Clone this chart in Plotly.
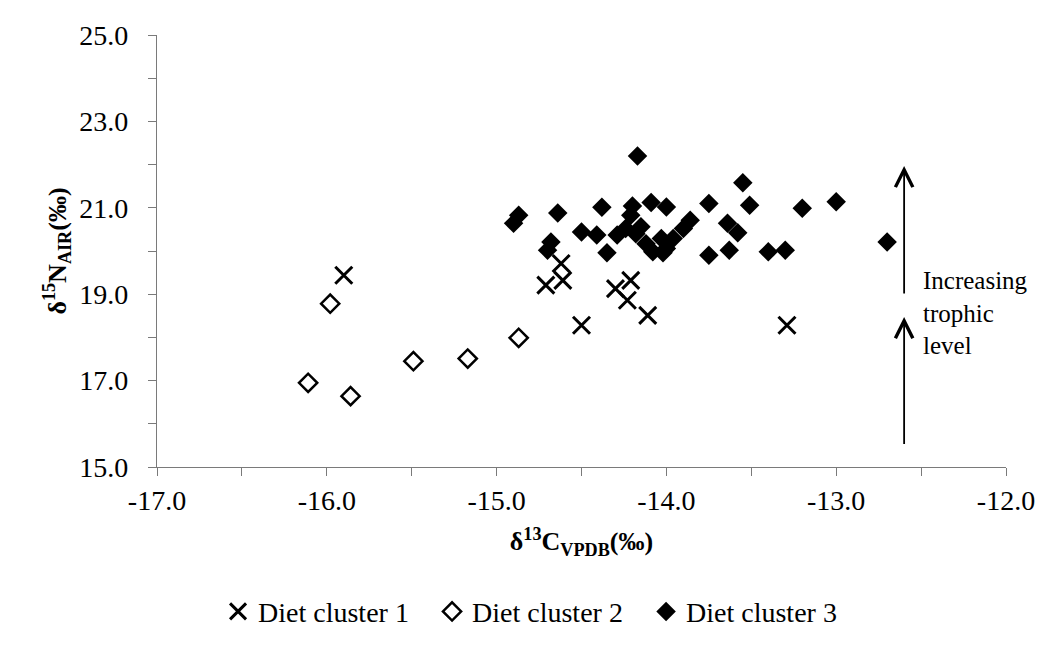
import plotly.graph_objects as go

# Diet cluster 1 (x markers)
c1_x = [-15.90, -14.71, -14.62, -14.61, -14.50, -14.30, -14.23, -14.21, -14.11, -13.29]
c1_y = [19.44, 19.21, 19.71, 19.32, 18.28, 19.13, 18.86, 19.32, 18.51, 18.28]

# Diet cluster 2 (open diamonds)
c2_x = [-16.11, -15.98, -15.86, -15.49, -15.17, -14.87]
c2_y = [16.95, 18.78, 16.64, 17.45, 17.51, 17.99]

# Diet cluster 3 (filled diamonds)
c3_x = [-14.17, -13.55, -13.51, -13.75, -14.38, -14.64, -14.87, -14.90, -14.20, -14.09,
        -14.00, -14.21, -14.50, -14.41, -14.35, -14.68, -14.70, -14.24, -14.29, -14.18,
        -14.12, -14.08, -14.03, -14.00, -13.96, -13.90, -13.86, -13.75, -13.63, -13.64,
        -13.58, -13.40, -13.30, -13.20, -13.00, -12.70, -14.02, -14.15]
c3_y = [22.20, 21.58, 21.06, 21.10, 21.01, 20.88, 20.83, 20.64, 21.04, 21.12,
        21.02, 20.83, 20.44, 20.37, 19.96, 20.21, 20.02, 20.52, 20.37, 20.40,
        20.17, 19.98, 20.29, 20.06, 20.29, 20.52, 20.71, 19.90, 20.02, 20.64,
        20.42, 19.98, 20.02, 20.99, 21.14, 20.21, 19.96, 20.56]

series_names = ["Diet cluster 1", "Diet cluster 2", "Diet cluster 3"]

x_ticks = [-17, -16, -15, -14, -13, -12]
y_ticks = [15, 17, 19, 21, 23, 25]

FONT = "Liberation Serif"

fig = go.Figure()
fig.add_trace(go.Scatter(
    x=c1_x, y=c1_y, mode="markers", name=series_names[0],
    marker=dict(symbol="x-thin", size=17, color="black",
                line=dict(color="black", width=3)),
))
fig.add_trace(go.Scatter(
    x=c2_x, y=c2_y, mode="markers", name=series_names[1],
    marker=dict(symbol="diamond", size=14, color="white",
                line=dict(color="black", width=2.5)),
))
fig.add_trace(go.Scatter(
    x=c3_x, y=c3_y, mode="markers", name=series_names[2],
    marker=dict(symbol="diamond", size=15, color="black",
                line=dict(color="black", width=0)),
))

axis_common = dict(
    showgrid=False, zeroline=False, showline=True,
    linecolor="#7a7a7a", linewidth=1.3,
    ticks="outside", ticklen=8, tickwidth=1.3, tickcolor="#7a7a7a",
    tickfont=dict(family=FONT, size=28, color="black"),
    minor=dict(ticks="outside", ticklen=8, tickwidth=1.3, tickcolor="#7a7a7a"),
)

fig.update_xaxes(
    range=[-17, -12], tickvals=x_ticks, ticktext=[f"{v:.1f}" for v in x_ticks],
    minor_dtick=0.5,
    ticklabelstandoff=0,
    title=dict(text="<b>δ<sup>13</sup>C<sub>VPDB</sub>(‰)</b>",
               font=dict(family=FONT, size=26, color="black"), standoff=17),
    **axis_common,
)
fig.update_yaxes(
    range=[15, 25], tickvals=y_ticks, ticktext=[f"{v:.1f}" for v in y_ticks],
    minor_dtick=1,
    ticklabelstandoff=14,
    title=dict(text="<b>δ<sup>15</sup>N<sub>AIR</sub>(‰)</b>",
               font=dict(family=FONT, size=26, color="black"), standoff=5),
    **axis_common,
)

# trophic level arrows
fig.add_annotation(x=-12.6, y=21.97, ax=-12.6, ay=18.98, xref="x", yref="y",
                   axref="x", ayref="y", showarrow=True, arrowhead=5,
                   arrowwidth=1.8, arrowsize=1.9, arrowcolor="black", text="")
fig.add_annotation(x=-12.6, y=18.47, ax=-12.6, ay=15.50, xref="x", yref="y",
                   axref="x", ayref="y", showarrow=True, arrowhead=5,
                   arrowwidth=1.8, arrowsize=1.9, arrowcolor="black", text="")
fig.add_annotation(x=-12.5, y=18.56, xref="x", yref="y", xanchor="left",
                   yanchor="middle", align="left", showarrow=False,
                   text="Increasing<br>trophic<br>level",
                   font=dict(family=FONT, size=25, color="black"))

fig.update_layout(
    width=1055, height=651,
    margin=dict(l=157, r=49, t=35, b=184, autoexpand=False),
    plot_bgcolor="white", paper_bgcolor="white",
    font=dict(family=FONT, color="black"),
    showlegend=True,
    legend=dict(orientation="h", x=0.45, xanchor="center", y=-0.335,
                yanchor="middle", entrywidth=169, entrywidthmode="pixels",
                font=dict(family=FONT, size=28, color="black"),
                bgcolor="rgba(0,0,0,0)", itemclick=False),
)

fig.write_html("out.html")
